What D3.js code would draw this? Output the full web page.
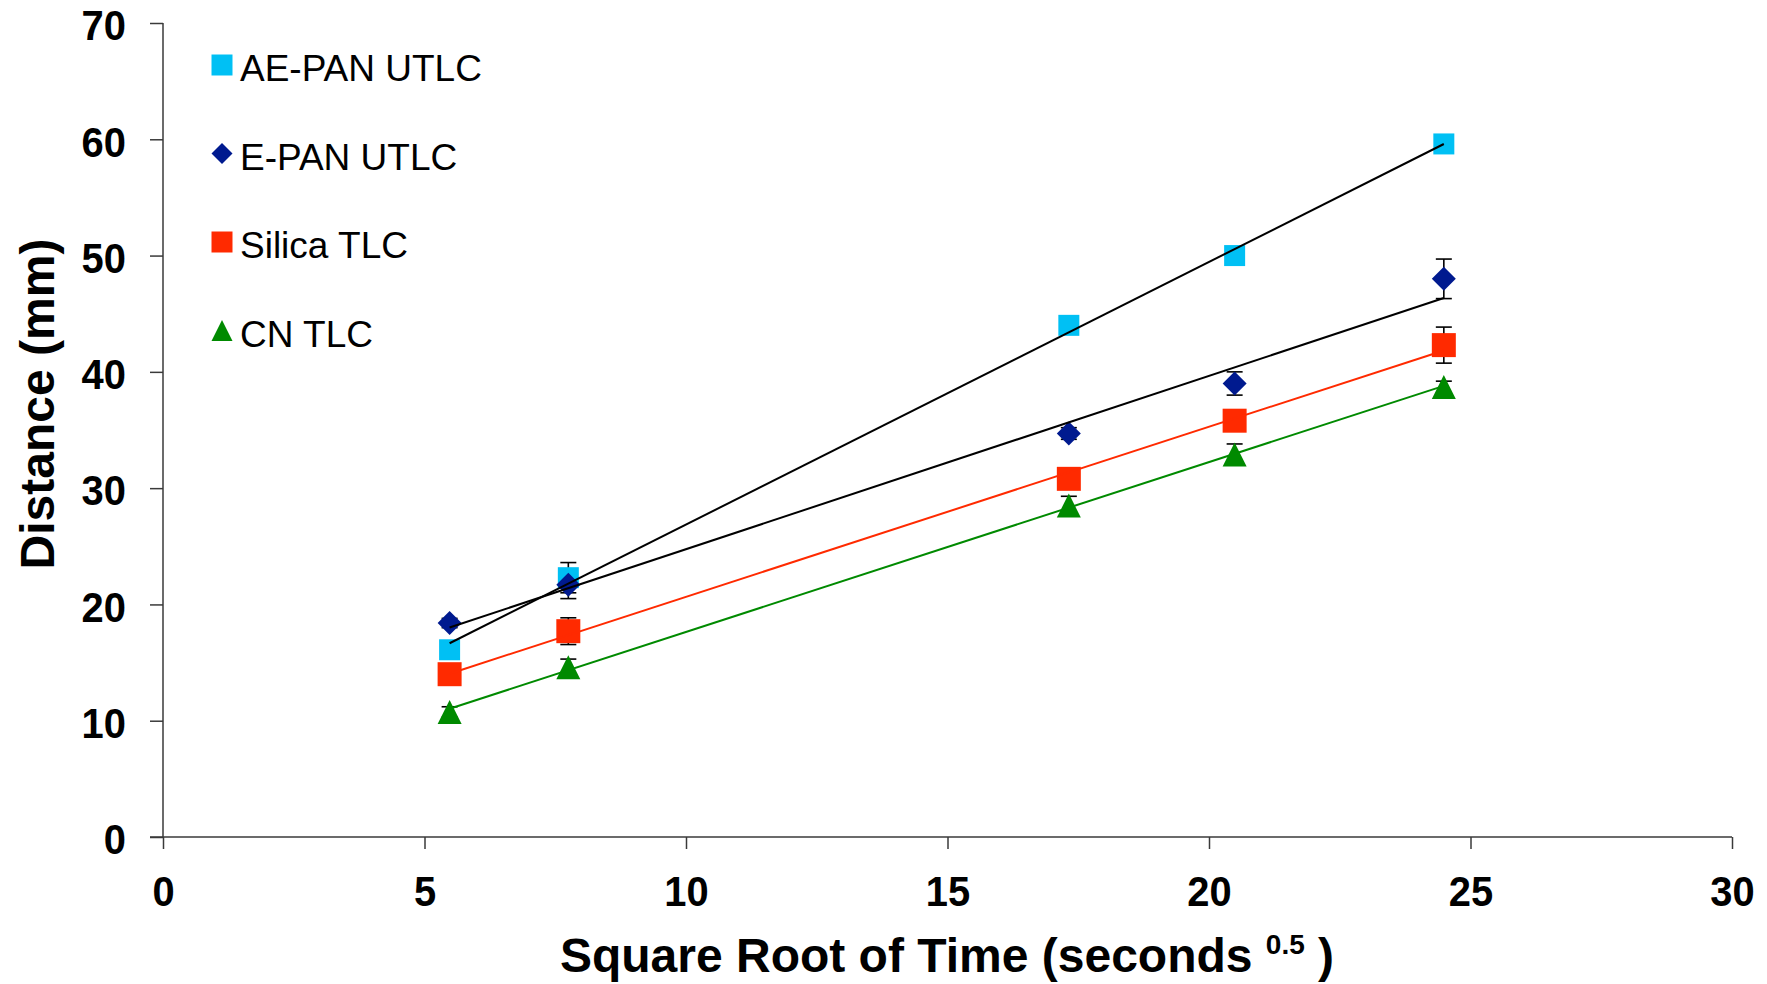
<!DOCTYPE html>
<html>
<head>
<meta charset="utf-8">
<script src="https://cdn.jsdelivr.net/npm/d3@7"></script>
<style>
  body { margin: 0; background: #fff; }
  text { font-family: "Liberation Sans", Arial, sans-serif; }
</style>
</head>
<body>
<div class="chart__container"></div>
<script>
// sqrt of time (s^0.5)
const times = [5.48, 7.75, 17.32, 20.49, 24.49];

const aePan = [16.1, 22.3, 44.0, 50.0, 59.6];
const aePanErr = [0.3, 1.3, 0.4, 0.4, 0.3];
const ePan = [18.4, 21.7, 34.7, 39.0, 48.0];
const ePanErr = [0.4, 1.2, 0.5, 1.0, 1.7];
const silica = [14.0, 17.7, 30.8, 35.8, 42.3];
const silicaErr = [0.5, 1.15, 0.6, 0.6, 1.55];
const cn = [10.75, 14.6, 28.5, 32.9, 38.7];
const cnErr = [0.45, 0.7, 0.8, 0.9, 0.5];

const seriesNames = ["AE-PAN UTLC", "E-PAN UTLC", "Silica TLC", "CN TLC"];
const xTicks = [0, 5, 10, 15, 20, 25, 30];
const yTicks = [0, 10, 20, 30, 40, 50, 60, 70];

const W = 1767, H = 984;
const margin = { top: 23, right: 35, bottom: 147, left: 163 };

const series = [
  { name: seriesNames[0], values: aePan, err: aePanErr, color: "#00c0f4", line: "#000", shape: "square", size: 21 },
  { name: seriesNames[1], values: ePan, err: ePanErr, color: "#001a8f", line: "#000", shape: "diamond", size: 24 },
  { name: seriesNames[2], values: silica, err: silicaErr, color: "#ff2a00", line: "#ff2a00", shape: "square", size: 24 },
  { name: seriesNames[3], values: cn, err: cnErr, color: "#008a00", line: "#008a00", shape: "triangle", size: 24 }
];

function markerPath(shape, s) {
  const h = s / 2;
  if (shape === "square") return `M${-h},${-h}H${h}V${h}H${-h}Z`;
  if (shape === "diamond") return `M0,${-h}L${h},0L0,${h}L${-h},0Z`;
  return `M0,${-h}L${h},${h}H${-h}Z`;
}

// least squares line
function fit(xs, ys) {
  const mx = d3.mean(xs), my = d3.mean(ys);
  let sxy = 0, sxx = 0;
  xs.forEach((x, i) => { sxy += (x - mx) * (ys[i] - my); sxx += (x - mx) ** 2; });
  const b = sxy / sxx;
  return { a: my - b * mx, b };
}

const svg = d3.select(".chart__container")
  .append("svg")
  .attr("width", W)
  .attr("height", H);

const x = d3.scaleLinear().domain([0, 30]).range([margin.left, W - margin.right]);
const y = d3.scaleLinear().domain([0, 70]).range([H - margin.bottom, margin.top]);

const axisColor = "#3a3a3a";

// y axis
const yAxis = svg.append("g")
  .attr("transform", `translate(${x(0)},0)`)
  .call(d3.axisLeft(y).tickValues(yTicks).tickSize(13).tickPadding(26).tickFormat(d3.format("d")));
// x axis
const xAxis = svg.append("g")
  .attr("transform", `translate(0,${y(0)})`)
  .call(d3.axisBottom(x).tickValues(xTicks).tickSize(12).tickPadding(27).tickFormat(d3.format("d")));

[yAxis, xAxis].forEach(g => {
  g.select(".domain").attr("stroke", axisColor).attr("stroke-width", 1.5);
  g.selectAll(".tick line").attr("stroke", axisColor).attr("stroke-width", 1.5);
  g.selectAll(".tick text")
    .attr("fill", "#000")
    .attr("transform", "scale(0.95,1)")
    .style("font-family", '"Liberation Sans", Arial, sans-serif')
    .style("font-size", "42px")
    .style("font-weight", "bold");
});
yAxis.selectAll(".tick text").attr("dy", "0.4em");
yAxis.select(".domain").attr("d", `M0,${y(70)}V${y(0)}`);
xAxis.select(".domain").attr("d", `M${x(0) - 13},0H${x(30)}`);

// error bars
series.forEach(s => {
  const g = svg.append("g").attr("stroke", "#000").attr("stroke-width", 1.6);
  s.values.forEach((v, i) => {
    const cx = x(times[i]);
    const y1 = y(v + s.err[i]), y2 = y(v - s.err[i]);
    g.append("line").attr("x1", cx).attr("x2", cx).attr("y1", y1).attr("y2", y2);
    g.append("line").attr("x1", cx - 8).attr("x2", cx + 8).attr("y1", y1).attr("y2", y1);
    g.append("line").attr("x1", cx - 8).attr("x2", cx + 8).attr("y1", y2).attr("y2", y2);
  });
});

// markers
series.forEach(s => {
  svg.append("g")
    .selectAll("path")
    .data(s.values)
    .enter()
    .append("path")
    .attr("transform", (d, i) => `translate(${x(times[i])},${y(d)})`)
    .attr("d", markerPath(s.shape, s.size))
    .attr("fill", s.color);
});

// trend lines
series.forEach(s => {
  const f = fit(times, s.values);
  const x0 = d3.min(times), x1 = d3.max(times);
  svg.append("line")
    .attr("x1", x(x0)).attr("y1", y(f.a + f.b * x0))
    .attr("x2", x(x1)).attr("y2", y(f.a + f.b * x1))
    .attr("stroke", s.line)
    .attr("stroke-width", 2);
});

// legend
const legend = svg.append("g");
series.forEach((s, i) => {
  const cy = 65 + i * 88.5;
  legend.append("path")
    .attr("transform", `translate(222,${cy})`)
    .attr("d", markerPath(s.shape, 21))
    .attr("fill", s.color);
  legend.append("text")
    .attr("x", 240)
    .attr("y", cy + 16)
    .style("font-size", "37px")
    .attr("fill", "#000")
    .text(s.name);
});

// axis titles
svg.append("text")
  .attr("transform", `translate(54,404) rotate(-90)`)
  .attr("text-anchor", "middle")
  .style("font-size", "48px")
  .style("font-weight", "bold")
  .text("Distance (mm)");

const xt = svg.append("text")
  .attr("x", 947)
  .attr("y", 972)
  .attr("text-anchor", "middle")
  .style("font-size", "48px")
  .style("font-weight", "bold");
xt.append("tspan").text("Square Root of Time (seconds ");
xt.append("tspan").attr("dy", -18).style("font-size", "28px").text("0.5");
xt.append("tspan").attr("dy", 18).text(" )");
</script>
</body>
</html>
